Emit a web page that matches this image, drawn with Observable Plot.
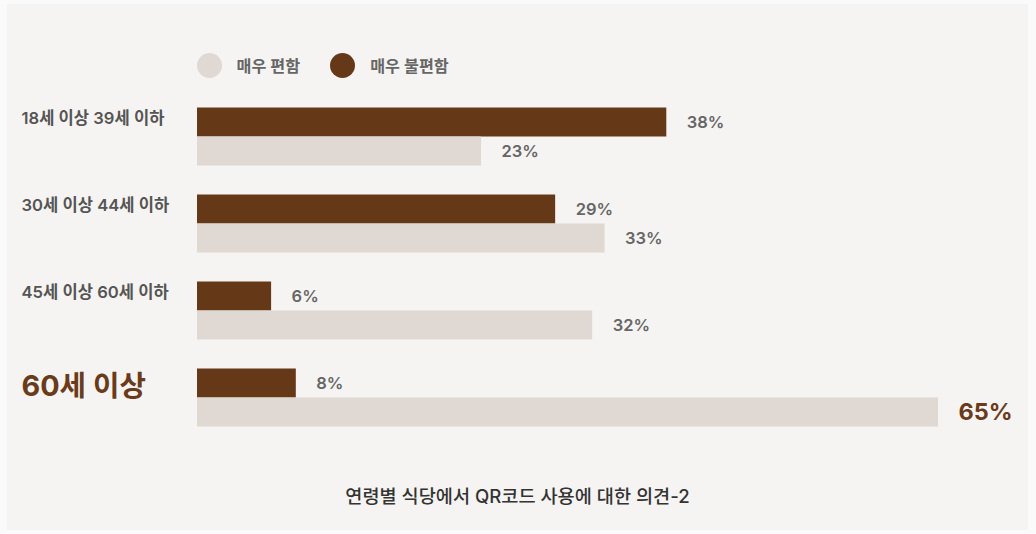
<!DOCTYPE html>
<html lang="ko">
<head>
<meta charset="utf-8">
<script src="https://cdn.jsdelivr.net/npm/d3@7"></script>
<script src="https://cdn.jsdelivr.net/npm/@observablehq/plot@0.6"></script>
<style>
  html, body { margin: 0; padding: 0; background: #fafafa; }
  body { width: 1036px; height: 534px; overflow: hidden; font-family: Inter, "Noto Sans CJK KR", sans-serif; }
  #panel { position: absolute; left: 7px; top: 4px; width: 1021px; height: 526px; background: #f5f4f2; }
  #legend { position: absolute; left: 189.5px; top: 48.5px; height: 25px; display: flex; align-items: center; font-size: 16.2px; font-weight: 600; color: #666; }
  .sw { width: 25px; height: 25px; border-radius: 50%; display: inline-block; margin-right: 15px; }
  .item { display: flex; align-items: center; margin-right: 30px; }
  #chart { position: absolute; left: 0; top: 0; }
  #caption { position: absolute; left: 0; width: 1021px; top: 480px; height: 24px; line-height: 24px; text-align: center; font-size: 18.6px; font-weight: 500; color: #333; }
</style>
</head>
<body>
<div id="panel">
  <div id="legend"></div>
  <div id="chart"></div>
  <div id="caption"></div>
</div>
<script>
// ---- data ----
const groups = ["18세 이상 39세 이하", "30세 이상 44세 이하", "45세 이상 60세 이하", "60세 이상"];
const seriesNames = ["매우 불편함", "매우 편함"];          // top bar, bottom bar
const veryUncomfortable = [38, 29, 6, 8];
const veryComfortable = [23, 33, 32, 65];
const legendOrder = ["매우 편함", "매우 불편함"];
const seriesColors = ["#653818", "#e0d8d2"];
const highlightGroup = "60세 이상";
const captionText = "연령별 식당에서 QR코드 사용에 대한 의견-2";
const xMax = 60;

// ---- table ----
const rows = [];
groups.forEach((g, i) => {
  rows.push({group: g, series: seriesNames[0], value: veryUncomfortable[i]});
  rows.push({group: g, series: seriesNames[1], value: veryComfortable[i]});
});
const colorOf = Object.fromEntries(seriesNames.map((s, i) => [s, seriesColors[i]]));

// ---- legend ----
const legend = document.getElementById("legend");
legendOrder.forEach(s => {
  const it = document.createElement("div");
  it.className = "item";
  const sw = document.createElement("span");
  sw.className = "sw";
  sw.style.background = colorOf[s];
  it.appendChild(sw);
  it.appendChild(document.createTextNode(s));
  legend.appendChild(it);
});
document.getElementById("caption").textContent = captionText;

const isHi = d => d.group === highlightGroup && d.series === seriesNames[1];

const chart = Plot.plot({
  width: 1021,
  height: 460,
  marginLeft: 190,
  marginRight: 90,
  marginTop: 102.5,
  marginBottom: 37.9,
  style: {background: "transparent", fontFamily: 'Inter, "Noto Sans CJK KR", sans-serif', overflow: "visible"},
  x: {domain: [0, xMax], clamp: true, axis: null},
  y: {domain: seriesNames, axis: null, paddingInner: 0, paddingOuter: 0},
  fy: {domain: groups, axis: null, paddingInner: 0.335, paddingOuter: 0},
  color: {domain: seriesNames, range: seriesColors},
  marks: [
    Plot.barX(rows, {x: "value", y: "series", fy: "group", fill: "series", inset: 0}),
    Plot.text(rows.filter(d => !isHi(d)), {
      x: "value", y: "series", fy: "group", text: d => d.value + "%",
      dx: 20, textAnchor: "start", fill: "#666", fontSize: 16.5, fontWeight: 600
    }),
    Plot.text(rows.filter(isHi), {
      x: "value", y: "series", fy: "group", text: d => d.value + "%",
      dx: 20, textAnchor: "start", fill: "#6a3b1a", fontSize: 23.5, fontWeight: 700
    }),
    Plot.text(groups.filter(g => g !== highlightGroup), {
      fy: d => d, y: () => seriesNames[0], text: d => d, frameAnchor: "left",
      dx: -176, dy: -4, textAnchor: "start", fill: "#555", fontSize: 16.6, fontWeight: 600
    }),
    Plot.text(groups.filter(g => g === highlightGroup), {
      fy: d => d, y: () => seriesNames[0], text: d => d, frameAnchor: "left",
      dx: -176, dy: 3.5, textAnchor: "start", fill: "#6a3b1a", fontSize: 28.8, fontWeight: 700
    })
  ]
});
document.getElementById("chart").appendChild(chart);
</script>
</body>
</html>
